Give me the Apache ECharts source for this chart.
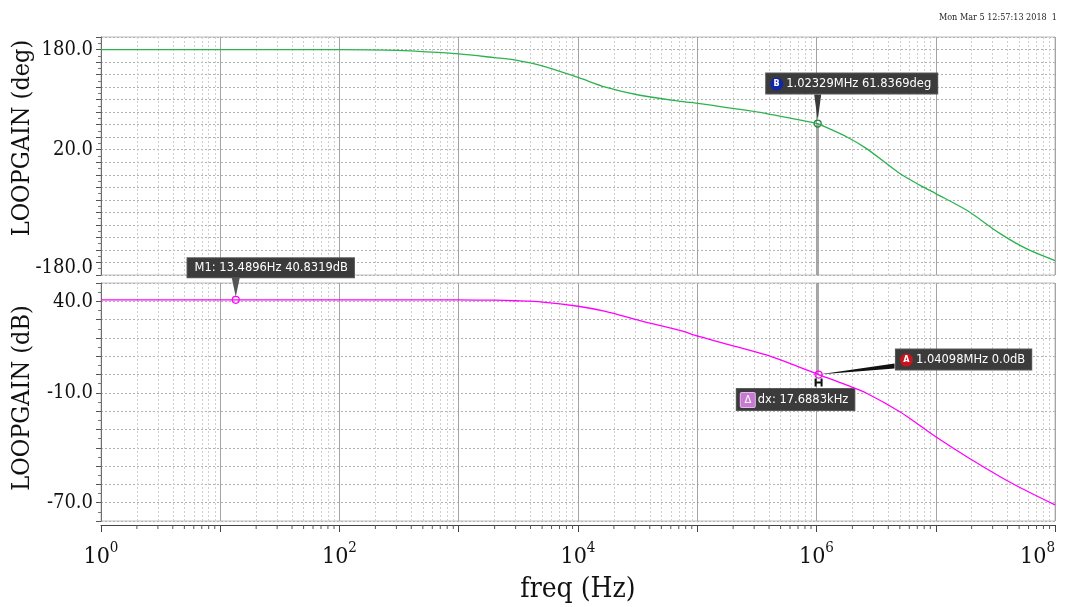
<!DOCTYPE html>
<html>
<head>
<meta charset="utf-8">
<title>LOOPGAIN</title>
<script src="https://cdn.jsdelivr.net/npm/echarts@6/dist/echarts.min.js"></script>
<style>
  html, body { margin: 0; padding: 0; background: #ffffff; }
  #chart { width: 1066px; height: 607px; }
</style>
</head>
<body>
<div id="chart"></div>
<script>
// Sweep frequencies (Hz) shared by both loop-gain traces
const freq = [1, 10, 100, 300, 1000, 2000, 3000, 5000, 1e4, 1.7e4, 3.3e4, 7e4,
  1.05e5, 2e5, 3.8e5, 1.02329e6, 1.04098e6, 1.8e6, 2.63e6, 5e6, 7.4e6, 1e7,
  1.82e7, 3.47e7, 5.75e7, 1e8];
// Loop-gain phase (deg)
const phaseDeg = [180, 180, 179.8, 178.6, 173, 167, 163, 154, 135.5, 120, 107, 97.5,
  93.7, 86, 77.8, 61.8369, 61.2, 40.4, 21.8, -18, -36.8, -50,
  -76.7, -114, -138, -157];
// Loop-gain magnitude (dB)
const gainDb = [40.83, 40.83, 40.83, 40.82, 40.75, 40.6, 40.3, 39.6, 37.3, 34.5, 29.5, 24.2,
  20.7, 15.7, 10.7, 0.2, 0.0, -5.8, -10.2, -20.3, -28, -34,
  -44.9, -55.8, -63.5, -71.2];

// Cursor readouts
const markerM1 = { freq: 13.4896, value: 40.8319 };
const markerA = { freq: 1.04098e6, value: 0.0 };
const markerB = { freq: 1.02329e6, value: 61.8369 };
const deltaFreq = 17688.3; // Hz, A - B

// Axis tick labels
const phaseTickLabels = [180, 20, -180];
const gainTickLabels = [40, -10, -70];
const freqLabelExponents = [0, 2, 4, 6, 8];

const phaseRange = { min: -180, max: 200, step: 20 };
const gainRange = { min: -80, max: 50, step: 10 };

// 2..9 x 10^n minor lines for the log frequency axis
const minorFreqs = [];
for (let n = 0; n < 8; n++) {
  for (let k = 2; k <= 9; k++) minorFreqs.push(k * Math.pow(10, n));
}

const SERIF_C = '"DejaVu Serif Condensed", "Liberation Serif", serif';
const SANS = '"DejaVu Sans", "Liberation Sans", sans-serif';

const freqPairs = (vals) => freq.map((f, i) => [f, vals[i]]);

const fmtHz = (f) => f >= 1e6 ? (f / 1e6).toFixed(5) + 'MHz'
  : f >= 1e3 ? (f / 1e3).toFixed(4) + 'kHz' : f.toFixed(4) + 'Hz';

const boxRich = {
  t: { color: '#ffffff', fontSize: 11.5, fontFamily: SANS, padding: [0, 0, 0, 3] },
  ia: { backgroundColor: '#c8141e', color: '#fff', borderRadius: 7, width: 13, height: 13,
        lineHeight: 13, align: 'center', fontSize: 8, fontWeight: 'bold', fontFamily: SANS },
  ib: { backgroundColor: '#1226a8', color: '#fff', borderRadius: 7, width: 13, height: 13,
        lineHeight: 13, align: 'center', fontSize: 8, fontWeight: 'bold', fontFamily: SANS },
  id: { backgroundColor: '#c67ad0', color: '#fff', borderRadius: 1, width: 14, height: 14,
        lineHeight: 14, align: 'center', fontSize: 10, fontFamily: SANS,
        borderColor: '#e6b8ec', borderWidth: 1 }
};

function boxLabel(text, offset) {
  return {
    show: true,
    position: 'inside',
    offset: offset,
    formatter: text,
    backgroundColor: '#3b3b3b',
    borderColor: '#5a5a5a',
    borderWidth: 1,
    padding: [4, 6, 3, 4],
    rich: boxRich
  };
}

const hidden = { color: 'rgba(0,0,0,0)', borderWidth: 0 };
const tinyAnchor = { symbol: 'rect', symbolSize: 1, itemStyle: hidden };

function yLabelFormatter(list, minVal) {
  return (v) => {
    if (!list.includes(v)) return '';
    const s = v.toFixed(1);
    return v === minVal ? '{lo|' + s + '}' : s;
  };
}

function yAxis(gridIndex, range, labels, name, namePad) {
  return {
    gridIndex: gridIndex,
    type: 'value',
    min: range.min,
    max: range.max,
    interval: range.step,
    name: name,
    nameLocation: 'middle',
    nameGap: 66,
    nameMoveOverlap: false,
    nameTextStyle: { fontFamily: SERIF_C, fontSize: 25, color: '#111', padding: namePad },
    axisLine: { show: true, lineStyle: { color: '#6e6e6e', width: 1 } },
    axisTick: { show: true, length: 5, lineStyle: { color: '#555' } },
    minorTick: { show: true, splitNumber: 2, length: 3, lineStyle: { color: '#777' } },
    splitLine: { show: true, lineStyle: { color: '#b2b2b2', width: 1, type: [2, 2] } },
    axisLabel: {
      formatter: yLabelFormatter(labels, range.min),
      fontFamily: SERIF_C, fontSize: 20, color: '#111', margin: 8,
      rich: { lo: { fontFamily: SERIF_C, fontSize: 20, color: '#111', padding: [0, 0, 14, 0] } }
    }
  };
}

function freqAxis(gridIndex, withLabels) {
  return {
    gridIndex: gridIndex,
    type: 'log',
    logBase: 10,
    min: 1,
    max: 1e8,
    splitNumber: 8,
    offset: withLabels ? 4 : 0,
    axisLine: { show: withLabels, onZero: false, lineStyle: { color: '#444', width: 1 } },
    axisTick: { show: withLabels, length: 7, lineStyle: { color: '#444' } },
    splitLine: { show: true, lineStyle: { color: '#a4a4a4', width: 1 } },
    axisLabel: {
      show: withLabels,
      margin: 16,
      alignMaxLabel: 'right',
      formatter: (v) => {
        const e = Math.round(Math.log10(v));
        return freqLabelExponents.includes(e) ? '{b|10}{e|' + e + '}' : '';
      },
      rich: {
        b: { fontFamily: SERIF_C, fontSize: 23, color: '#111', lineHeight: 28, verticalAlign: 'bottom' },
        e: { fontFamily: SERIF_C, fontSize: 15, color: '#111', lineHeight: 15, verticalAlign: 'top' }
      }
    },
    name: withLabels ? 'freq (Hz)' : '',
    nameLocation: 'middle',
    nameGap: 51,
    nameTextStyle: { fontFamily: SERIF_C, fontSize: 28, color: '#111' }
  };
}

const minorGridLines = (xi, yi) => ({
  type: 'line',
  xAxisIndex: xi,
  yAxisIndex: yi,
  data: [],
  silent: true,
  markLine: {
    silent: true,
    symbol: 'none',
    label: { show: false },
    lineStyle: { color: '#cfcfcf', width: 1, type: [2, 2] },
    data: minorFreqs.map((f) => ({ xAxis: f }))
  }
});

const panel = (top) => ({
  left: 101, right: 11, top: top, height: 238,
  containLabel: false, outerBoundsMode: 'none',
  show: true, borderColor: '#bcbcbc', borderWidth: 1, backgroundColor: '#fff'
});

const option = {
  animation: false,
  backgroundColor: '#ffffff',
  title: {
    text: 'Mon Mar 5 12:57:13 2018  1',
    right: 4,
    top: 8,
    textStyle: { fontFamily: SERIF_C, fontSize: 9, fontWeight: 'normal', color: '#222' }
  },
  grid: [panel(37), panel(283)],
  xAxis: [freqAxis(0, false), freqAxis(1, true)],
  yAxis: [
    yAxis(0, phaseRange, phaseTickLabels, 'LOOPGAIN (deg)', [0, 0, 0, 36]),
    yAxis(1, gainRange, gainTickLabels, 'LOOPGAIN (dB)', [0, 0, 0, 8])
  ],
  series: [
    minorGridLines(0, 0),
    minorGridLines(1, 1),
    {
      // minor ticks under the frequency axis
      type: 'custom',
      xAxisIndex: 1,
      yAxisIndex: 1,
      silent: true,
      clip: false,
      data: minorFreqs.map((f) => [f, gainRange.min]),
      renderItem: (params, api) => {
        const p = api.coord([api.value(0), api.value(1)]);
        return {
          type: 'line',
          shape: { x1: p[0], y1: p[1] + 4, x2: p[0], y2: p[1] + 8 },
          style: { stroke: '#555', lineWidth: 1 }
        };
      }
    },
    {
      name: 'phase',
      type: 'line',
      xAxisIndex: 0,
      yAxisIndex: 0,
      data: freqPairs(phaseDeg),
      smooth: 0.3,
      showSymbol: false,
      z: 5,
      lineStyle: { color: '#2bb34e', width: 1.3 },
      itemStyle: { color: '#2bb34e' },
      markLine: {
        silent: true,
        symbol: 'none',
        label: { show: false },
        lineStyle: { color: '#8c8c8c', width: 1.5, type: 'solid' },
        data: [[{ coord: [markerB.freq, markerB.value] }, { coord: [markerB.freq, phaseRange.min] }]]
      },
      markPoint: {
        silent: true,
        data: [
          {
            coord: [markerB.freq, markerB.value],
            symbol: 'path://M0,0L10,0L5,30Z',
            symbolKeepAspect: false,
            symbolSize: [7, 26],
            symbolOffset: [0, -16],
            itemStyle: { color: '#3a3a3a' },
            label: { show: false }
          },
          {
            coord: [markerB.freq, markerB.value],
            symbol: 'circle',
            symbolSize: 7,
            itemStyle: { color: 'rgba(0,0,0,0)', borderColor: '#1f7f3c', borderWidth: 1.3 },
            label: { show: false }
          },
          Object.assign({
            coord: [markerB.freq, markerB.value],
            label: boxLabel('{ib|B}{t|' + fmtHz(markerB.freq) + ' ' + markerB.value.toFixed(4) + 'deg}', [34, -40])
          }, tinyAnchor)
        ]
      }
    },
    {
      name: 'gain',
      type: 'line',
      xAxisIndex: 1,
      yAxisIndex: 1,
      data: freqPairs(gainDb),
      smooth: 0.3,
      showSymbol: false,
      z: 5,
      lineStyle: { color: '#ff00ff', width: 1.3 },
      itemStyle: { color: '#ff00ff' },
      markLine: {
        silent: true,
        symbol: 'none',
        label: { show: false },
        lineStyle: { color: '#8c8c8c', width: 1.5, type: 'solid' },
        data: [[{ coord: [markerB.freq, gainRange.max] }, { coord: [markerB.freq, markerA.value] }]]
      },
      markPoint: {
        silent: true,
        data: [
          // M1 pointer, ring and readout
          {
            coord: [markerM1.freq, markerM1.value],
            symbol: 'path://M0,0L10,0L5,30Z',
            symbolKeepAspect: false,
            symbolSize: [8, 19],
            symbolOffset: [0, -12.5],
            itemStyle: { color: '#555555' },
            label: { show: false }
          },
          {
            coord: [markerM1.freq, markerM1.value],
            symbol: 'circle',
            symbolSize: 7,
            itemStyle: { color: 'rgba(0,0,0,0)', borderColor: '#ff00ff', borderWidth: 1.2 },
            label: { show: false }
          },
          Object.assign({
            coord: [markerM1.freq, markerM1.value],
            label: boxLabel('{t|M1: ' + fmtHz(markerM1.freq) + ' ' + markerM1.value.toFixed(4) + 'dB}', [35, -32])
          }, tinyAnchor),
          // A pointer, ring and readout
          {
            coord: [markerA.freq, markerA.value],
            symbol: 'path://M0,11L76,0L76,5Z',
            symbolKeepAspect: false,
            symbolSize: [76, 11],
            symbolOffset: [38, -5.5],
            itemStyle: { color: '#111111' },
            label: { show: false }
          },
          {
            coord: [markerA.freq, markerA.value],
            symbol: 'circle',
            symbolSize: 7,
            itemStyle: { color: 'rgba(0,0,0,0)', borderColor: '#ff00ff', borderWidth: 1.2 },
            label: { show: false }
          },
          Object.assign({
            coord: [markerA.freq, markerA.value],
            label: boxLabel('{ia|A}{t|' + fmtHz(markerA.freq) + ' ' + markerA.value.toFixed(1) + 'dB}', [145, -15])
          }, tinyAnchor),
          // delta readout
          {
            coord: [markerA.freq, markerA.value],
            symbol: 'path://M0,0L2,0L2,3L6,3L6,0L8,0L8,8L6,8L6,5L2,5L2,8L0,8Z',
            symbolKeepAspect: false,
            symbolSize: [8, 8],
            symbolOffset: [0, 8],
            itemStyle: { color: '#111111' },
            label: { show: false }
          },
          Object.assign({
            coord: [markerA.freq, markerA.value],
            label: boxLabel('{id|\u0394}{t|dx: ' + fmtHz(deltaFreq) + '}', [-23, 25])
          }, tinyAnchor)
        ]
      }
    }
  ]
};

const chart = echarts.init(document.getElementById('chart'), null, { renderer: 'canvas' });
chart.setOption(option);
</script>
</body>
</html>
